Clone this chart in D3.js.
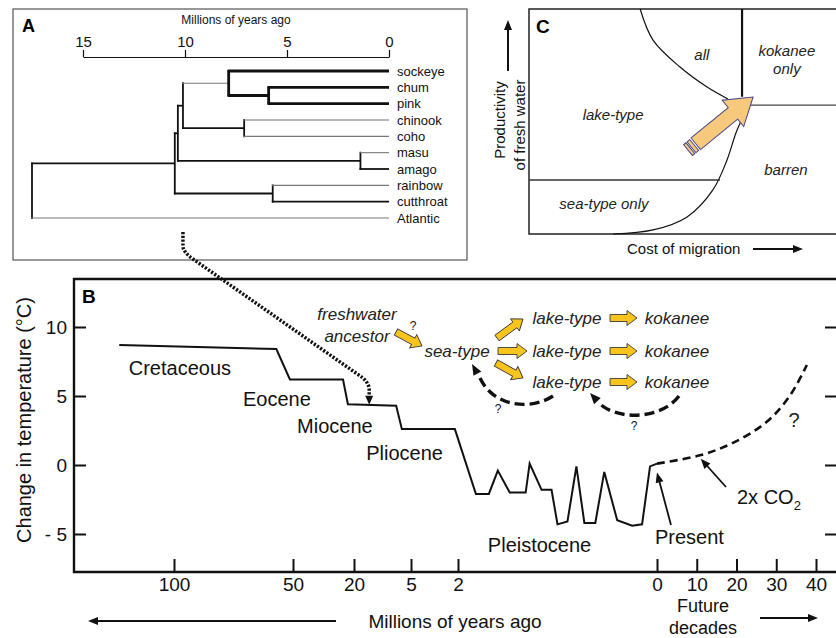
<!DOCTYPE html>
<html>
<head>
<meta charset="utf-8">
<script src="https://cdn.jsdelivr.net/npm/d3@7"></script>
<style>
  body { margin: 0; background: #fff; }
  svg { font-family: "Liberation Sans", Arial, Helvetica, sans-serif; display: block; }
</style>
</head>
<body>
<svg id="fig" width="836" height="638"></svg>
<script>
// ---- panel A : phylogeny (ages in millions of years) ----
var speciesNames   = ['sockeye','chum','pink','chinook','coho','masu','amago','rainbow','cutthroat','Atlantic'];
var speciesParents = ['n4','n5','n5','n6','n6','n7','n7','n8','n8','root'];
var cladeIds       = ['root','n1','n2','n3','n4','n5','n6','n7','n8'];
var cladeParents   = [null,'root','n1','n2','n3','n4','n3','n2','n1'];
var cladeAges      = [17.5, 10.5, 10.35, 10.1, 7.86, 5.9, 7.1, 1.4, 5.7];
var phyloTicks     = [15, 10, 5, 0];

// ---- panel B : temperature history ----
var pastAgesMya = [123, 57, 51.3, 25.4, 23, 8.9, 7.4, 2.2, 1.82, 1.69, 1.6, 1.48, 1.32, 1.28,
                   1.16, 1.06, 1.0, 0.9, 0.81, 0.73, 0.62, 0.53, 0.4, 0.25, 0.15, 0.07, 0];
var pastTempsC  = [8.7, 8.4, 6.2, 6.2, 4.4, 4.3, 2.6, 2.6, -2.1, -2.1, -0.4, -2.0, -2.0, 0.1,
                   -1.8, -1.8, -4.3, -4.1, -0.1, -4.2, -4.2, -0.5, -4.0, -4.4, -4.3, -0.1, 0.1];
var futureDecades = [0, 10.8, 19.1, 27.7, 33.5, 37.7];
var futureTempsC  = [0.1, 0.7, 1.6, 3.15, 5.05, 7.25];
var myaTicks    = [100, 50, 20, 5, 2];
var decadeTicks = [0, 10, 20, 30, 40];
var tempTicks   = [10, 5, 0, -5];
var epochNames  = ['Cretaceous', 'Eocene', 'Miocene', 'Pliocene', 'Pleistocene'];
var epochAges   = [119, 71, 48, 16.8, 1.7];
var epochTemps  = [7.0, 4.8, 2.8, 0.9, -5.8];

// ---- panel C : regime boundaries (normalised cost / productivity) ----
var allCurve   = [[0.362,1.0],[0.404,0.862],[0.492,0.742],[0.580,0.653],[0.648,0.600]];
var lowCurve   = [[0.274,0],[0.404,0.018],[0.515,0.076],[0.599,0.196],[0.645,0.329],[0.674,0.449],[0.69,0.50]];

var svg = d3.select('#fig');
svg.append('rect').attr('width', 836).attr('height', 638).attr('fill', '#fff');

function arrowHead(g, tx, ty, fx, fy, len, wid) {
  var a = Math.atan2(ty - fy, tx - fx);
  var bx = tx - len * Math.cos(a), by = ty - len * Math.sin(a);
  var px = Math.sin(a) * wid / 2, py = -Math.cos(a) * wid / 2;
  g.append('path')
    .attr('d', 'M' + tx + ',' + ty + 'L' + (bx + px) + ',' + (by + py) + 'L' + (bx - px) + ',' + (by - py) + 'Z')
    .attr('fill', '#111');
}
function arrowLine(g, x1, y1, x2, y2, w) {
  var a = Math.atan2(y2 - y1, x2 - x1);
  g.append('line').attr('x1', x1).attr('y1', y1)
    .attr('x2', x2 - 8 * Math.cos(a)).attr('y2', y2 - 8 * Math.sin(a))
    .attr('stroke', '#111').attr('stroke-width', w);
  arrowHead(g, x2, y2, x1, y1, 10, 8);
}
function blockArrow(g, x1, y1, x2, y2, sw, hw, hl, fill, stroke) {
  var len = Math.hypot(x2 - x1, y2 - y1);
  var ang = Math.atan2(y2 - y1, x2 - x1) * 180 / Math.PI;
  var d = 'M0,' + (-sw/2) + 'L' + (len-hl) + ',' + (-sw/2) + 'L' + (len-hl) + ',' + (-hw/2) +
          'L' + len + ',0L' + (len-hl) + ',' + (hw/2) + 'L' + (len-hl) + ',' + (sw/2) + 'L0,' + (sw/2) + 'Z';
  return g.append('g').attr('transform', 'translate(' + x1 + ',' + y1 + ') rotate(' + ang + ')')
    .call(function (s) {
      s.append('path').attr('d', d).attr('fill', fill).attr('stroke', stroke).attr('stroke-width', 0.9);
    });
}

// ================= PANEL A =================
var gA = svg.append('g');
gA.append('rect').attr('x', 13).attr('y', 9).attr('width', 454).attr('height', 251)
  .attr('fill', 'none').attr('stroke', '#555').attr('stroke-width', 1.2);
gA.append('text').attr('x', 22).attr('y', 32).attr('font-size', 18).attr('font-weight', 'bold').text('A');

var xA = d3.scaleLinear().domain([15, 0]).range([83, 389]);
var yLeaf = d3.scalePoint().domain(speciesNames).range([71, 218]);

gA.append('g').attr('transform', 'translate(0,57)')
  .call(d3.axisTop(xA).tickValues(phyloTicks).tickSizeInner(7).tickSizeOuter(0).tickPadding(3))
  .call(function (a) {
    a.selectAll('path,line').attr('stroke', '#111').attr('stroke-width', 1.2);
    a.selectAll('text').attr('font-size', 15).attr('font-family', null).attr('fill', '#111');
  });
gA.append('text').attr('x', 236).attr('y', 24).attr('text-anchor', 'middle')
  .attr('font-size', 12).attr('fill', '#111').text('Millions of years ago');

var nodes = {};
cladeIds.forEach(function (id, i) { nodes[id] = { id: id, parent: cladeParents[i], age: cladeAges[i], children: [] }; });
speciesNames.forEach(function (s, i) { nodes[s] = { id: s, parent: speciesParents[i], age: 0, leaf: true, children: [] }; });
Object.keys(nodes).forEach(function (k) { var n = nodes[k]; if (n.parent) nodes[n.parent].children.push(n); });
function yNode(n) {
  if (n.leaf) return yLeaf(n.id);
  var ys = n.children.map(yNode);
  return (d3.min(ys) + d3.max(ys)) / 2;
}
var thickIds = ['sockeye', 'chum', 'pink', 'n5', 'n4'];
var grayIds = ['chinook', 'coho', 'masu', 'rainbow', 'Atlantic'];
function edgeStyle(sel, id, isVertical) {
  if (thickIds.indexOf(id) >= 0 && !(id === 'n4' && !isVertical)) sel.attr('stroke', '#111').attr('stroke-width', 2.8);
  else if (grayIds.indexOf(id) >= 0 || (id === 'n4' && !isVertical)) sel.attr('stroke', '#777').attr('stroke-width', 1.1);
  else sel.attr('stroke', '#111').attr('stroke-width', 1.8);
}
Object.keys(nodes).forEach(function (k) {
  var n = nodes[k];
  if (n.parent) {
    var y = yNode(n);
    gA.append('line').attr('x1', xA(nodes[n.parent].age) - 0.9).attr('x2', xA(n.age)).attr('y1', y).attr('y2', y)
      .call(edgeStyle, n.id, false);
  }
  if (!n.leaf) {
    var ys = n.children.map(yNode);
    gA.append('line').attr('x1', xA(n.age)).attr('x2', xA(n.age))
      .attr('y1', d3.min(ys) - 0.9).attr('y2', d3.max(ys) + 0.9)
      .call(edgeStyle, n.id, true);
  }
});
gA.selectAll('text.leaf').data(speciesNames).join('text').attr('class', 'leaf')
  .attr('x', 397).attr('y', function (d) { return yLeaf(d); }).attr('dy', '0.35em')
  .attr('font-size', 13).attr('fill', '#111').text(function (d) { return d; });

// ================= PANEL C =================
var gC = svg.append('g');
var xC = d3.scaleLinear().domain([0, 1]).range([529, 836]);
var yC = d3.scaleLinear().domain([0, 1]).range([234, 9]);
gC.append('path').attr('d', 'M836,9H529V234H836').attr('fill', 'none').attr('stroke', '#222').attr('stroke-width', 1.5);
gC.append('text').attr('x', 536).attr('y', 33).attr('font-size', 19).attr('font-weight', 'bold').text('C');
var cLine = d3.line().x(function (d) { return xC(d[0]); }).y(function (d) { return yC(d[1]); }).curve(d3.curveCatmullRom);
gC.append('path').attr('d', cLine(allCurve)).attr('fill', 'none').attr('stroke', '#111').attr('stroke-width', 1.2);
gC.append('path').attr('d', cLine(lowCurve)).attr('fill', 'none').attr('stroke', '#111').attr('stroke-width', 1.2);
gC.append('line').attr('x1', xC(0.694)).attr('x2', xC(0.694)).attr('y1', yC(1)).attr('y2', yC(0.61))
  .attr('stroke', '#111').attr('stroke-width', 2.2);
gC.append('line').attr('x1', xC(0.72)).attr('x2', xC(1)).attr('y1', yC(0.573)).attr('y2', yC(0.573))
  .attr('stroke', '#444').attr('stroke-width', 1.3);
gC.append('line').attr('x1', xC(0)).attr('x2', xC(0.622)).attr('y1', yC(0.24)).attr('y2', yC(0.24))
  .attr('stroke', '#333').attr('stroke-width', 1.3);

// big migration arrow
(function () {
  var tx = xC(0.518), ty = yC(0.373), hx = xC(0.730), hy = yC(0.609);
  var len = Math.hypot(hx - tx, hy - ty), ang = Math.atan2(hy - ty, hx - tx) * 180 / Math.PI;
  var g = gC.append('g').attr('transform', 'translate(' + tx + ',' + ty + ') rotate(' + ang + ')');
  var fill = '#f6c97d', st = '#45458a';
  var sw = 15, hw = 34, hl = 26, s0 = 10;
  g.append('path').attr('d', 'M' + s0 + ',' + (-sw/2) + 'L' + (len-hl) + ',' + (-sw/2) + 'L' + (len-hl) + ',' + (-hw/2) +
      'L' + len + ',0L' + (len-hl) + ',' + (hw/2) + 'L' + (len-hl) + ',' + (sw/2) + 'L' + s0 + ',' + (sw/2) + 'Z')
    .attr('fill', fill).attr('stroke', st).attr('stroke-width', 1);
  [[0, 3], [4.5, 8]].forEach(function (b) {
    g.append('rect').attr('x', b[0]).attr('y', -sw/2 + 0.5).attr('width', b[1] - b[0]).attr('height', sw - 1)
      .attr('fill', fill).attr('stroke', st).attr('stroke-width', 1);
  });
})();

var cLabels = [['all', 0.563, 0.796], ['kokanee', 0.840, 0.813], ['only', 0.840, 0.733],
               ['lake-type', 0.274, 0.529], ['barren', 0.837, 0.284], ['sea-type only', 0.244, 0.133]];
gC.selectAll('text.reg').data(cLabels).join('text').attr('class', 'reg')
  .attr('x', function (d) { return xC(d[1]); }).attr('y', function (d) { return yC(d[2]); })
  .attr('dy', '0.35em').attr('text-anchor', 'middle').attr('font-size', 15).attr('font-style', 'italic')
  .attr('fill', '#222').text(function (d) { return d[0]; });
gC.append('text').attr('x', 627).attr('y', 249).attr('dy', '0.35em').attr('font-size', 15).attr('fill', '#111')
  .text('Cost of migration');
arrowLine(gC, 753, 249, 803, 249, 2);
gC.append('text').attr('transform', 'translate(500,120) rotate(-90)').attr('dy', '0.35em')
  .attr('text-anchor', 'middle').attr('font-size', 15).attr('fill', '#111').text('Productivity');
gC.append('text').attr('transform', 'translate(520,125) rotate(-90)').attr('dy', '0.35em')
  .attr('text-anchor', 'middle').attr('font-size', 15).attr('fill', '#111').text('of fresh water');
arrowLine(gC, 508, 71, 508, 20, 2);

// ================= PANEL B =================
var gB = svg.append('g');
var xPast = d3.scaleLinear().domain([100, 50, 20, 5, 2, 0]).range([174, 293, 354, 411, 458, 657]);
var xFut = d3.scaleLinear().domain([0, 40]).range([657, 816]);
var yB = d3.scaleLinear().domain([-5, 10]).range([534, 327]);

gB.append('path').attr('d', 'M836,279H74V572H836').attr('fill', 'none').attr('stroke', '#111').attr('stroke-width', 2.4);
gB.append('text').attr('x', 82).attr('y', 303).attr('font-size', 19).attr('font-weight', 'bold').text('B');

function styleAxis(a) {
  a.select('.domain').remove();
  a.selectAll('line').attr('stroke', '#111').attr('stroke-width', 2);
  a.selectAll('text').attr('font-size', 19).attr('font-family', null).attr('fill', '#111');
}
gB.append('g').attr('transform', 'translate(0,572)')
  .call(d3.axisBottom(xPast).tickValues(myaTicks).tickSize(-13).tickPadding(6)).call(styleAxis);
gB.append('g').attr('transform', 'translate(0,572)')
  .call(d3.axisBottom(xFut).tickValues(decadeTicks).tickSize(-13).tickPadding(6)).call(styleAxis);
gB.append('g').attr('transform', 'translate(74,0)')
  .call(d3.axisLeft(yB).tickValues(tempTicks).tickSize(-12).tickPadding(7)
    .tickFormat(function (d) { return d < 0 ? '- ' + Math.abs(d) : d; })).call(styleAxis);
gB.append('g').attr('transform', 'translate(836,0)')
  .call(d3.axisRight(yB).tickValues(tempTicks).tickSize(-11).tickFormat('')).call(styleAxis);

gB.append('text').attr('transform', 'translate(24,420) rotate(-90)').attr('dy', '0.35em')
  .attr('text-anchor', 'middle').attr('font-size', 20).attr('fill', '#111').text('Change in temperature (°C)');
gB.append('text').attr('x', 455).attr('y', 621).attr('dy', '0.35em').attr('text-anchor', 'middle')
  .attr('font-size', 19).attr('fill', '#111').text('Millions of years ago');
arrowLine(gB, 336, 621, 88, 621, 2);
gB.append('text').attr('x', 703).attr('y', 606).attr('dy', '0.35em').attr('text-anchor', 'middle')
  .attr('font-size', 18).attr('fill', '#111').text('Future');
gB.append('text').attr('x', 703).attr('y', 628).attr('dy', '0.35em').attr('text-anchor', 'middle')
  .attr('font-size', 18).attr('fill', '#111').text('decades');
arrowLine(gB, 760, 618, 818, 618, 2);

// temperature record
var pastLine = d3.line().x(function (d, i) { return xPast(pastAgesMya[i]); }).y(function (d) { return yB(d); });
gB.append('path').attr('d', pastLine(pastTempsC)).attr('fill', 'none').attr('stroke', '#111')
  .attr('stroke-width', 2).attr('stroke-linejoin', 'miter');
var futLine = d3.line().x(function (d, i) { return xFut(futureDecades[i]); }).y(function (d) { return yB(d); })
  .curve(d3.curveCatmullRom);
gB.append('path').attr('d', futLine(futureTempsC)).attr('fill', 'none').attr('stroke', '#111')
  .attr('stroke-width', 2.6).attr('stroke-dasharray', '8,5');

gB.selectAll('text.epoch').data(epochNames).join('text').attr('class', 'epoch')
  .attr('x', function (d, i) { return xPast(epochAges[i]); }).attr('y', function (d, i) { return yB(epochTemps[i]); })
  .attr('dy', '0.35em').attr('font-size', 20).attr('fill', '#111').text(function (d) { return d; });
gB.append('text').attr('x', xFut(-0.5)).attr('y', yB(-5.2)).attr('dy', '0.35em')
  .attr('font-size', 20).attr('fill', '#111').text('Present');
arrowLine(gB, 671, 525, xFut(0), yB(-0.55), 1.8);
var co2 = gB.append('text').attr('x', 737).attr('y', 497).attr('dy', '0.35em').attr('font-size', 20).attr('fill', '#111');
co2.append('tspan').text('2x CO');
co2.append('tspan').attr('font-size', 13).attr('dy', 6).text('2');
arrowLine(gB, 726, 487, xFut(11), yB(0.45), 1.8);
gB.append('text').attr('x', 794).attr('y', 420).attr('dy', '0.35em').attr('text-anchor', 'middle')
  .attr('font-size', 20).attr('fill', '#222').text('?');

// flow of forms
var gold = '#f8c41d', goldEdge = '#3a3a3a';
var rowsY = [318, 351, 382];
var flowText = gB.append('g').attr('font-size', 17).attr('font-style', 'italic').attr('fill', '#222').attr('text-anchor', 'middle');
flowText.append('text').attr('x', 357).attr('y', 314).attr('dy', '0.35em').text('freshwater');
flowText.append('text').attr('x', 357).attr('y', 336).attr('dy', '0.35em').text('ancestor');
flowText.append('text').attr('x', 457).attr('y', 351).attr('dy', '0.35em').text('sea-type');
rowsY.forEach(function (y) {
  flowText.append('text').attr('x', 567).attr('y', y).attr('dy', '0.35em').text('lake-type');
  flowText.append('text').attr('x', 677).attr('y', y).attr('dy', '0.35em').text('kokanee');
  blockArrow(gB, 610, y, 637, y, 7, 15, 10, gold, goldEdge);
});
blockArrow(gB, 396, 332, 422, 346, 7, 15, 10, gold, goldEdge);
blockArrow(gB, 497, 338, 523, 319, 7, 15, 10, gold, goldEdge);
blockArrow(gB, 498, 351, 527, 351, 7, 15, 10, gold, goldEdge);
blockArrow(gB, 496, 363, 523, 378, 7, 15, 10, gold, goldEdge);

var qs = [[413, 326], [498, 409], [634, 426]];
gB.selectAll('text.q').data(qs).join('text').attr('class', 'q')
  .attr('x', function (d) { return d[0]; }).attr('y', function (d) { return d[1]; }).attr('dy', '0.35em')
  .attr('text-anchor', 'middle').attr('font-size', 12).attr('fill', '#111').text('?');

// dashed return arcs
gB.append('path').attr('d', 'M553,396 C532,410 494,408 480,378').attr('fill', 'none')
  .attr('stroke', '#111').attr('stroke-width', 3.4).attr('stroke-dasharray', '10,5');
arrowHead(gB, 472, 364, 481, 380, 11, 9);
gB.append('path').attr('d', 'M679,396 C660,421 614,420 598,402').attr('fill', 'none')
  .attr('stroke', '#111').attr('stroke-width', 3.4).attr('stroke-dasharray', '10,5');
arrowHead(gB, 590, 393, 600, 404, 11, 9);

// dotted connector from the tree to the Miocene
var startX = xA(10.1), endX = xPast(16);
svg.append('path')
  .attr('d', 'M' + startX + ',232 V246 Q' + startX + ',252 ' + (startX + 10) + ',259 L' + (endX - 12) + ',374 Q' + endX + ',381 ' + endX + ',390 V398')
  .attr('fill', 'none').attr('stroke', '#111').attr('stroke-width', 3.5).attr('stroke-dasharray', '2.2,1.6');
arrowHead(svg, endX, yB(4.3) - 1, endX, 390, 9, 8);
</script>
</body>
</html>
